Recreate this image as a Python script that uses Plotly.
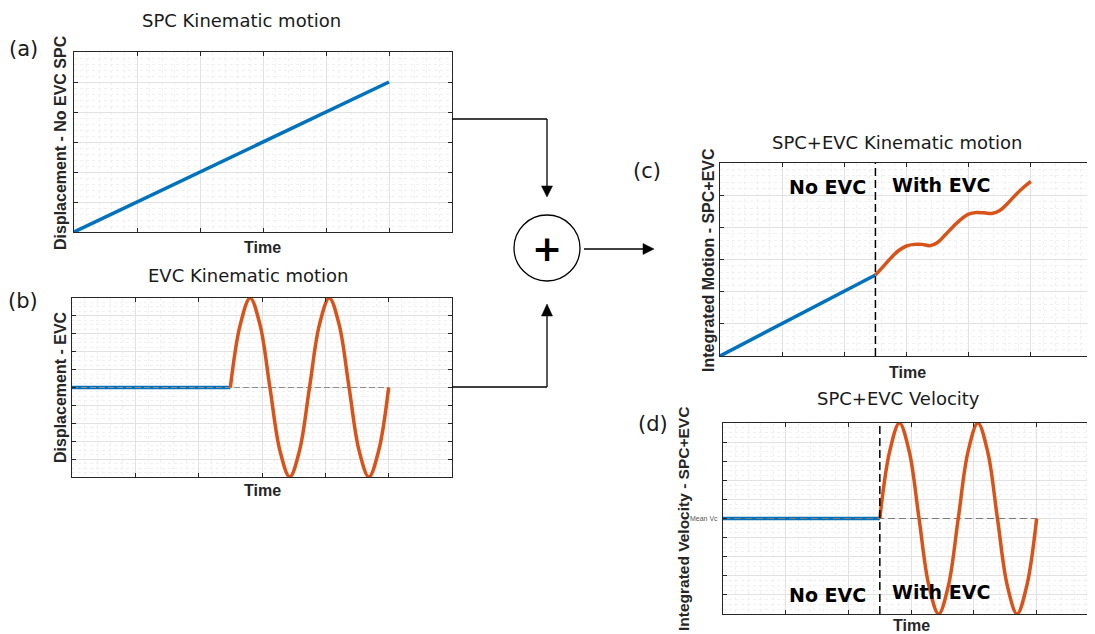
import plotly.graph_objects as go

# ---------------- data ----------------
# (a) SPC kinematic motion: linear displacement
spc_time = [0.0, 5.0]
spc_disp = [0.0, 5.0]

# (b) EVC kinematic motion: flat until onset, then oscillation
evc_onset = 2.5
base_time = [0.0, 2.5]
base_level = [0.0, 0.0]
mean_time = [0.0, 5.0]
mean_level = [0.0, 0.0]
evc_time = [2.5, 2.656, 2.8125, 2.969, 3.125, 3.281, 3.4375, 3.594, 3.75,
            3.906, 4.0625, 4.219, 4.375, 4.531, 4.6875, 4.844, 5.0]
evc_disp = [0.0, 3.5, 5.0, 3.5, 0.0, -3.5, -5.0, -3.5, 0.0,
            3.5, 5.0, 3.5, 0.0, -3.5, -5.0, -3.5, 0.0]

# (c) SPC+EVC integrated motion
motion_base_time = [0.0, 2.5]
motion_base = [0.0, 2.52]
motion_evc_time = [2.5, 2.625, 2.75, 2.875, 3.0, 3.125, 3.25, 3.375, 3.5, 3.625,
                   3.75, 3.875, 4.0, 4.125, 4.25, 4.375, 4.5, 4.625, 4.75, 4.875, 5.0]
motion_evc = [2.52, 2.78, 3.05, 3.28, 3.42, 3.47, 3.47, 3.43, 3.53, 3.77,
              4.02, 4.25, 4.41, 4.46, 4.45, 4.43, 4.52, 4.74, 5.00, 5.23, 5.43]

# (d) SPC+EVC velocity
vel_base_time = [0.0, 2.5]
vel_base = [0.0, 0.0]
vel_evc_time = evc_time
vel_evc = [0.0, 3.5, 5.0, 3.5, 0.0, -3.5, -5.0, -3.5, 0.0,
           3.5, 5.0, 3.5, 0.0, -3.5, -5.0, -3.5, 0.0]
vel_ticks = [-5, -4, -3, -2, -1, 0, 1, 2, 3, 4, 5]
vel_ticktext = ["", "", "", "", "", "Mean Vc", "", "", "", "", ""]

titles = ["SPC Kinematic motion", "EVC Kinematic motion",
          "SPC+EVC Kinematic motion", "SPC+EVC Velocity"]
ylabels = ["Displacement - No EVC SPC", "Displacement - EVC",
           "Integrated Motion - SPC+EVC", "Integrated Velocity - SPC+EVC"]
panel_tags = ["(a)", "(b)", "(c)", "(d)"]
xlabel = "Time"
region_labels = ["No EVC", "With EVC"]

# ---------------- styling ----------------
# the page body has an 8px margin, so the figure is sized to fill the rest
OFF = 8
W, H = 1095 - OFF, 634 - OFF
BLUE = "#0072BD"
ORANGE = "#D95319"
AXC = "#262626"
LW = 3.5


def px(x):
    return min(max((x - OFF) / W, 0.0), 1.0)


def py(y):
    return min(max(1 - (y - OFF) / H, 0.0), 1.0)


def axis(domain, rng, dtick, minor_dtick, anchor, mirror="ticks"):
    return dict(
        domain=domain, range=rng, anchor=anchor, autorange=False,
        showline=True, linecolor=AXC, linewidth=1, mirror=mirror,
        ticks="inside", ticklen=4, tickwidth=1, tickcolor=AXC,
        tickmode="linear", tick0=rng[0], dtick=dtick, showticklabels=False,
        showgrid=True, gridcolor="#e2e2e2", gridwidth=1, zeroline=False,
        minor=dict(dtick=minor_dtick, tick0=rng[0], showgrid=True,
                   gridcolor="#f0f0f0", griddash="dot", gridwidth=1, ticks=""),
        fixedrange=True,
    )


fig = go.Figure()

# (a)
fig.add_trace(go.Scatter(x=spc_time, y=spc_disp, mode="lines",
                         line=dict(color=BLUE, width=LW), xaxis="x", yaxis="y"))
# (b)
fig.add_trace(go.Scatter(x=base_time, y=base_level, mode="lines",
                         line=dict(color=BLUE, width=LW), xaxis="x2", yaxis="y2"))
fig.add_trace(go.Scatter(x=mean_time, y=mean_level, mode="lines",
                         line=dict(color="#8c8c8c", width=1, dash="6px,3px"),
                         xaxis="x2", yaxis="y2"))
fig.add_trace(go.Scatter(x=evc_time, y=evc_disp, mode="lines",
                         line=dict(color=ORANGE, width=LW, shape="spline"),
                         xaxis="x2", yaxis="y2"))
# (c)
fig.add_trace(go.Scatter(x=motion_base_time, y=motion_base, mode="lines",
                         line=dict(color=BLUE, width=LW), xaxis="x3", yaxis="y3"))
fig.add_trace(go.Scatter(x=motion_evc_time, y=motion_evc, mode="lines",
                         line=dict(color=ORANGE, width=LW, shape="spline"),
                         xaxis="x3", yaxis="y3"))
fig.add_trace(go.Scatter(x=[evc_onset, evc_onset], y=[0, 6], mode="lines",
                         line=dict(color="black", width=1.5, dash="8px,4px"),
                         xaxis="x3", yaxis="y3"))
# (d)
fig.add_trace(go.Scatter(x=vel_base_time, y=vel_base, mode="lines",
                         line=dict(color=BLUE, width=LW), xaxis="x4", yaxis="y4"))
fig.add_trace(go.Scatter(x=mean_time, y=mean_level, mode="lines",
                         line=dict(color="#7a7a7a", width=1, dash="7px,4px"),
                         xaxis="x4", yaxis="y4"))
fig.add_trace(go.Scatter(x=vel_evc_time, y=vel_evc, mode="lines",
                         line=dict(color=ORANGE, width=LW, shape="spline"),
                         xaxis="x4", yaxis="y4"))
fig.add_trace(go.Scatter(x=[evc_onset, evc_onset], y=[-5, 5], mode="lines",
                         line=dict(color="black", width=1.5, dash="8px,4px"),
                         xaxis="x4", yaxis="y4"))

yaxis4 = axis([py(614), py(423)], [-5, 5], 1, 0.25, "x4", mirror=False)
yaxis4.update(tickmode="array", tickvals=vel_ticks, ticktext=vel_ticktext,
              showticklabels=True, ticklabelstandoff=3,
              tickfont=dict(family="Liberation Sans", size=7, color="#555555"))

fig.update_layout(
    width=W, height=H, autosize=False,
    margin=dict(l=0, r=0, t=0, b=0),
    paper_bgcolor="white", plot_bgcolor="white",
    showlegend=False,
    xaxis=axis([px(74), px(452)], [0, 6], 1, 0.2, "y"),
    yaxis=axis([py(232), py(52)], [0, 6], 1, 0.2, "x"),
    xaxis2=axis([px(72), px(452)], [0, 6], 1, 0.2, "y2"),
    yaxis2=axis([py(477), py(298)], [-5, 5], 1, 0.25, "x2"),
    xaxis3=axis([px(720), px(1093)], [0, 6], 1, 0.2, "y3"),
    yaxis3=axis([py(356), py(163)], [0, 6], 1, 0.2, "x3"),
    xaxis4=axis([px(723), 1.0], [0, 5.93], 1, 0.2, "y4"),
    yaxis4=yaxis4,
)

ann = []


def text(s, x, y, size, family, bold=False, angle=0, color="black"):
    ann.append(dict(text=s, x=(x - OFF) / W, y=1 - (y - OFF) / H,
                    xref="paper", yref="paper",
                    xanchor="center", yanchor="middle", showarrow=False,
                    textangle=angle,
                    font=dict(family=family, size=size, color=color,
                              weight="bold" if bold else "normal")))


# titles
for s, (x, y) in zip(titles, [(241, 21), (248, 275), (897, 143), (898, 399)]):
    text(s, x, y, 18, "DejaVu Sans", color="#1a1a1a")
# panel tags
for s, (x, y) in zip(panel_tags, [(23, 49), (23, 301), (647, 171), (653, 424)]):
    text(s, x, y, 21, "DejaVu Sans", color="#1a1a1a")
# y labels
for s, (x, y), sz in zip(ylabels, [(61, 143), (60, 387), (708, 260), (683, 519)],
                         [16, 16, 16, 15.5]):
    text(s, x, y, sz, "Liberation Sans", bold=True, angle=-90, color="#262626")
# x labels
for (x, y) in [(262, 247), (262, 490), (907, 372), (911, 625)]:
    text(xlabel, x, y, 16, "Liberation Sans", bold=True, color="#262626")
# region labels
text(region_labels[0], 827, 187, 19, "DejaVu Sans", bold=True)
text(region_labels[1], 941, 185, 19, "DejaVu Sans", bold=True)
text(region_labels[0], 827, 595, 19, "DejaVu Sans", bold=True)
text(region_labels[1], 941, 592, 19, "DejaVu Sans", bold=True)
# summing junction plus
text("+", 547, 248, 36, "DejaVu Sans", bold=True)

fig.update_layout(annotations=ann)

# ---------------- block diagram shapes ----------------
shapes = []


def seg(x0, y0, x1, y1):
    shapes.append(dict(type="line", xref="paper", yref="paper",
                       x0=px(x0), y0=py(y0), x1=px(x1), y1=py(y1),
                       line=dict(color="black", width=1.3)))


def tri(pts):
    path = "M " + " L ".join(f"{px(a):.5f},{py(b):.5f}" for a, b in pts) + " Z"
    shapes.append(dict(type="path", xref="paper", yref="paper", path=path,
                       fillcolor="black", line=dict(color="black", width=0.5)))


# from (a) to junction
seg(452, 119, 547, 119)
seg(547, 119, 547, 188)
tri([(541.5, 186), (552.5, 186), (547, 197)])
# from (b) to junction
seg(452, 387, 547, 387)
seg(547, 387, 547, 314)
tri([(541.5, 316), (552.5, 316), (547, 304)])
# junction to (c)
seg(584, 249, 645, 249)
tri([(643, 243.5), (643, 254.5), (654, 249)])
# circle
shapes.append(dict(type="circle", xref="paper", yref="paper",
                   x0=px(514), x1=px(580), y0=py(281), y1=py(215),
                   line=dict(color="black", width=1.3)))

fig.update_layout(shapes=shapes)

fig.write_html("out.html")
